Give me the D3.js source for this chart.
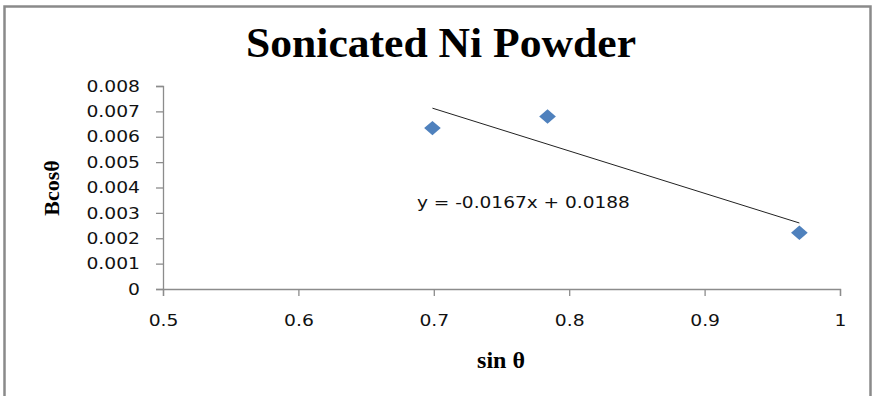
<!DOCTYPE html>
<html>
<head>
<meta charset="utf-8">
<script src="https://cdn.jsdelivr.net/npm/d3@7"></script>
<style>
  body { margin: 0; background: #fff; }
  svg { display: block; }
</style>
</head>
<body>
<div id="chart-area"></div>
<script>
// data
const sinTheta = [0.699, 0.784, 0.970];
const bCosTheta = [0.00634, 0.00680, 0.00222];
const slope = -0.0167;
const intercept = 0.0188;
const xTicks = [0.5, 0.6, 0.7, 0.8, 0.9, 1];
const yTicks = [0, 0.001, 0.002, 0.003, 0.004, 0.005, 0.006, 0.007, 0.008];

const W = 874, H = 396;
const margin = { top: 86, right: 34, bottom: 107, left: 163 };
const width = W - margin.left - margin.right,
      height = H - margin.top - margin.bottom;

const svg = d3.select("#chart-area")
  .append("svg")
    .attr("width", W)
    .attr("height", H);

// outer frame
svg.append("rect")
  .attr("x", 4.5).attr("y", 6.5)
  .attr("width", 866).attr("height", 400)
  .attr("fill", "none")
  .attr("stroke", "#8a8a8a")
  .attr("stroke-width", 2.5);

const g = svg.append("g")
  .attr("transform", "translate(" + margin.left + ", " + margin.top + ")");

const x = d3.scaleLinear().domain([0.5, 1]).range([0, width]);
const y = d3.scaleLinear().domain([0, 0.008]).range([height, 0]);

// x-axis
const xAxis = g.append("g")
  .attr("transform", "translate(0, " + height + ")")
  .call(d3.axisBottom(x).tickValues(xTicks).tickSize(7).tickPadding(19)
    .tickFormat(d => d3.format("")(d)));

// y-axis
const yAxis = g.append("g")
  .call(d3.axisLeft(y).tickValues(yTicks).tickSize(7).tickPadding(16)
    .tickFormat(d => d === 0 ? "0" : d3.format(".3f")(d)));

[xAxis, yAxis].forEach(ax => {
  ax.select(".domain").attr("stroke", "#8c8c8c").attr("stroke-width", 1.3);
  ax.selectAll(".tick line").attr("stroke", "#8c8c8c").attr("stroke-width", 1.3);
  ax.selectAll(".tick text")
    .attr("fill", "#111")
    .style("font-family", "'DejaVu Sans', sans-serif")
    .style("font-size", "16px")
    .each(function() {
      // the original lettering is a little wider than DejaVu
      const w = this.getComputedTextLength();
      d3.select(this)
        .attr("textLength", w * 1.17)
        .attr("lengthAdjust", "spacingAndGlyphs");
    });
});

// trendline over the data range
const x0 = d3.min(sinTheta), x1 = d3.max(sinTheta);
g.append("line")
  .attr("x1", x(x0)).attr("y1", y(slope * x0 + intercept))
  .attr("x2", x(x1)).attr("y2", y(slope * x1 + intercept))
  .attr("stroke", "#222")
  .attr("stroke-width", 1);

// diamond markers
const pts = sinTheta.map((s, i) => ({ s: s, b: bCosTheta[i] }));
g.selectAll(".pt")
  .data(pts)
  .enter()
  .append("path")
    .attr("class", "pt")
    .attr("d", d3.symbol().type(d3.symbolSquare).size(105))
    .attr("transform", d => "translate(" + x(d.s) + "," + y(d.b) + ") scale(1.15,1) rotate(45)")
    .attr("fill", "#4f81bd");

// equation label
g.append("text")
  .attr("x", x(0.6875))
  .attr("y", y(0.00319))
  .attr("textLength", 213)
  .attr("lengthAdjust", "spacingAndGlyphs")
  .attr("fill", "#111")
  .style("font-family", "'DejaVu Sans', sans-serif")
  .style("font-size", "16px")
  .text("y = -0.0167x + 0.0188");

// title
svg.append("text")
  .attr("x", 441)
  .attr("y", 57)
  .attr("text-anchor", "middle")
  .attr("textLength", 390)
  .attr("lengthAdjust", "spacingAndGlyphs")
  .style("font-family", "'Liberation Serif', serif")
  .style("font-weight", "bold")
  .style("font-size", "42px")
  .text("Sonicated Ni Powder");

// x-label
svg.append("text")
  .attr("x", 501)
  .attr("y", 368)
  .attr("text-anchor", "middle")
  .style("font-family", "'Liberation Serif', serif")
  .style("font-weight", "bold")
  .style("font-size", "24px")
  .text("sin θ");

// y-label
svg.append("text")
  .attr("x", -188)
  .attr("y", 59)
  .attr("text-anchor", "middle")
  .attr("transform", "rotate(-90)")
  .style("font-family", "'Liberation Serif', serif")
  .style("font-weight", "bold")
  .style("font-size", "22px")
  .text("Bcosθ");
</script>
</body>
</html>
